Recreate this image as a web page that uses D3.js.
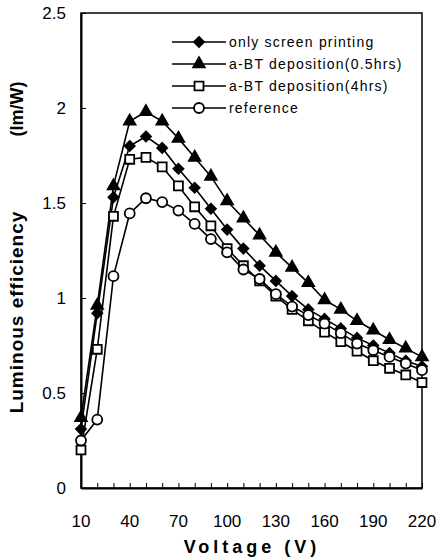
<!DOCTYPE html>
<html>
<head>
<meta charset="utf-8">
<script src="https://cdn.jsdelivr.net/npm/d3@7"></script>
<style>
  body { margin: 0; background: #fff; }
  svg { display: block; font-family: "Liberation Sans", Arial, sans-serif; }
</style>
</head>
<body>
<svg width="441" height="559"></svg>
<script>
// voltage (V)
var volts = [10, 20, 30, 40, 50, 60, 70, 80, 90, 100, 110, 120, 130, 140, 150, 160, 170, 180, 190, 200, 210, 220];
// luminous efficiency (lm/W)
var screenPrint = [0.31, 0.92, 1.53, 1.80, 1.85, 1.79, 1.68, 1.58, 1.47, 1.36, 1.26, 1.17, 1.09, 1.01, 0.94, 0.89, 0.84, 0.79, 0.75, 0.71, 0.67, 0.64];
var bt05 = [0.37, 0.96, 1.59, 1.93, 1.98, 1.93, 1.84, 1.74, 1.64, 1.51, 1.42, 1.33, 1.24, 1.16, 1.08, 0.99, 0.94, 0.88, 0.83, 0.78, 0.735, 0.69];
var bt4 = [0.20, 0.73, 1.43, 1.73, 1.74, 1.69, 1.59, 1.48, 1.38, 1.26, 1.17, 1.09, 1.01, 0.94, 0.88, 0.82, 0.77, 0.72, 0.67, 0.63, 0.595, 0.555];
var reference = [0.25, 0.36, 1.115, 1.445, 1.525, 1.505, 1.46, 1.39, 1.31, 1.24, 1.15, 1.10, 1.02, 0.955, 0.91, 0.865, 0.815, 0.76, 0.725, 0.69, 0.655, 0.62];

var xTicks = [10, 40, 70, 100, 130, 160, 190, 220];
var yTicks = [0, 0.5, 1, 1.5, 2, 2.5];

var series = [
    {name: "only screen printing", values: screenPrint, shape: d3.symbolDiamond2, fill: "#000", size: 64},
    {name: "a-BT deposition(0.5hrs)", values: bt05, shape: d3.symbolTriangle, fill: "#000", size: 58},
    {name: "a-BT deposition(4hrs)", values: bt4, shape: d3.symbolSquare, fill: "#fff", size: 80},
    {name: "reference", values: reference, shape: d3.symbolCircle, fill: "#fff", size: 78}
];

var svg = d3.select("svg");
var plotLeft = 81, plotRight = 422, plotTop = 13, plotBottom = 488;

var x = d3.scaleLinear().domain([10, 220]).range([plotLeft, plotRight]);
var y = d3.scaleLinear().domain([0, 2.5]).range([plotBottom, plotTop]);

// frame
svg.append("rect")
    .attr("x", plotLeft).attr("y", plotTop)
    .attr("width", plotRight - plotLeft).attr("height", plotBottom - plotTop)
    .attr("fill", "none").attr("stroke", "#000").attr("stroke-width", 1.5);

// x axis, ticks inward every 10 V
svg.append("g")
    .attr("transform", "translate(0," + plotBottom + ")")
    .call(d3.axisBottom(x).tickValues(volts).tickSize(-5).tickFormat("").tickSizeOuter(0))
    .call(function(g){ g.select(".domain").attr("stroke-width", 2); });

svg.append("g")
    .selectAll("text")
    .data(xTicks)
    .enter().append("text")
    .attr("x", function(d){ return x(d); })
    .attr("y", 527)
    .attr("text-anchor", "middle")
    .attr("font-size", "17px")
    .text(function(d){ return d; });

// y axis
svg.append("g")
    .attr("transform", "translate(" + plotLeft + ",0)")
    .call(d3.axisLeft(y).tickValues(yTicks).tickSize(-5).tickFormat("").tickSizeOuter(0))
    .call(function(g){ g.select(".domain").attr("stroke-width", 2); });

svg.append("g")
    .selectAll("text")
    .data(yTicks)
    .enter().append("text")
    .attr("x", 66)
    .attr("y", function(d){ return y(d) + 6; })
    .attr("text-anchor", "end")
    .attr("font-size", "17px")
    .text(function(d){ return d; });

// axis titles
svg.append("text")
    .attr("x", 252).attr("y", 553)
    .attr("text-anchor", "middle")
    .attr("font-size", "18px").attr("font-weight", "bold")
    .attr("letter-spacing", "4px")
    .text("Voltage (V)");

svg.append("text")
    .attr("transform", "translate(23,312) rotate(-90)")
    .attr("text-anchor", "middle")
    .attr("font-size", "19px").attr("font-weight", "bold")
    .attr("letter-spacing", "1px")
    .text("Luminous efficiency");

svg.append("text")
    .attr("transform", "translate(23,109) rotate(-90)")
    .attr("text-anchor", "middle")
    .attr("font-size", "18px").attr("font-weight", "bold")
    .text("(lm/W)");

// lines + markers
var line = d3.line()
    .x(function(d, i){ return x(volts[i]); })
    .y(function(d){ return y(d); });

var order = [1, 0, 2, 3];
order.forEach(function(k){
    var s = series[k];
    svg.append("path")
        .attr("d", line(s.values))
        .attr("fill", "none").attr("stroke", "#000").attr("stroke-width", 1.6);
    svg.append("g").selectAll("path")
        .data(s.values)
        .enter().append("path")
        .attr("transform", function(d, i){ return "translate(" + x(volts[i]) + "," + y(d) + ")"; })
        .attr("d", d3.symbol().type(s.shape).size(s.size))
        .attr("fill", s.fill).attr("stroke", "#000").attr("stroke-width", 1.8);
});

// legend
var leg = svg.append("g");
series.forEach(function(s, i){
    var ly = 42 + i * 22;
    leg.append("line")
        .attr("x1", 172).attr("x2", 226).attr("y1", ly).attr("y2", ly)
        .attr("stroke", "#000").attr("stroke-width", 1.6);
    leg.append("path")
        .attr("transform", "translate(199," + ly + ")")
        .attr("d", d3.symbol().type(s.shape).size(s.size))
        .attr("fill", s.fill).attr("stroke", "#000").attr("stroke-width", 1.8);
    leg.append("text")
        .attr("x", 229).attr("y", ly + 5)
        .attr("font-size", "14px")
        .attr("letter-spacing", "1.2px")
        .text(s.name);
});
</script>
</body>
</html>
